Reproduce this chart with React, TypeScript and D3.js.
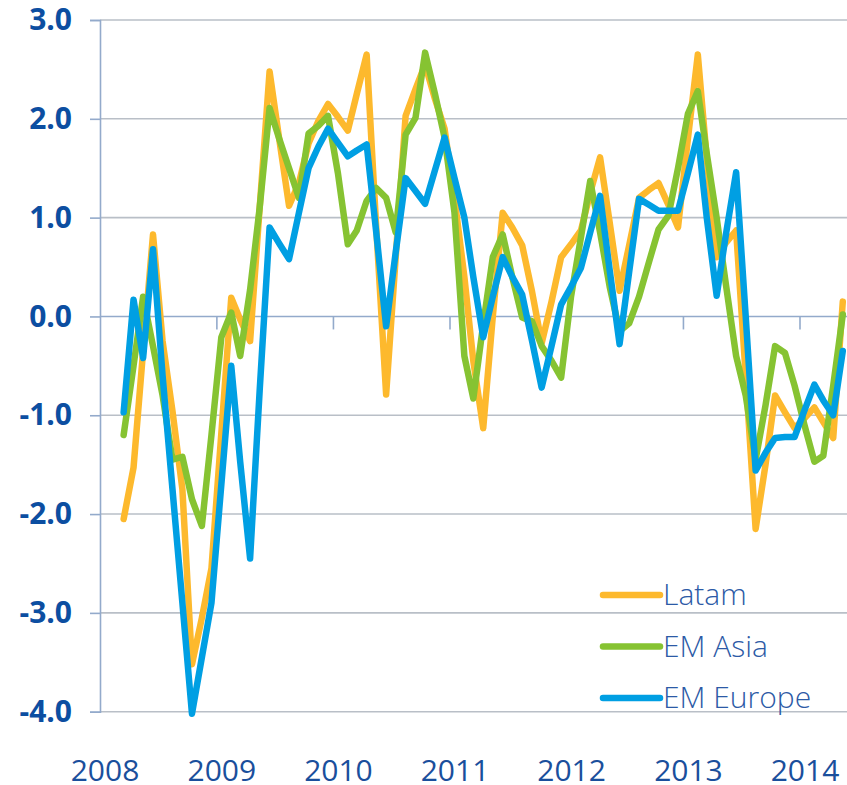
import React, { useEffect, useRef } from 'react';
import * as d3 from 'd3';

// months from Mar 2008 to May 2014
const firstMonth = { year: 2008, month: 2 };
const latam = [
  -2.05, -1.53, -0.35, 0.83, -0.25, -0.96, -1.75, -3.52, -3.05, -2.55,
  -1.18, 0.19, -0.03, -0.25, 1.1, 2.48, 1.8, 1.12, 1.35, 1.75,
  1.98, 2.15, 2.02, 1.88, 2.25, 2.65, 0.9, -0.79, 0.6, 2.03,
  2.3, 2.55, 2.2, 1.9, 1.2, 0.4, -0.45, -1.13, 0.0, 1.05,
  0.9, 0.72, 0.25, -0.27, 0.15, 0.6, 0.73, 0.87, 1.25, 1.61,
  0.95, 0.26, 0.72, 1.2, 1.28, 1.35, 1.13, 0.9, 1.8, 2.65,
  1.6, 0.6, 0.75, 0.87, -0.6, -2.15, -1.5, -0.8, -0.97, -1.13,
  -1.03, -0.92, -1.07, -1.23, 0.15,
];
const emAsia = [
  -1.2, -0.5, 0.2, -0.3, -0.8, -1.45, -1.42, -1.85, -2.12, -1.2,
  -0.21, 0.04, -0.4, 0.27, 1.1, 2.11, 1.8, 1.5, 1.2, 1.85,
  1.93, 2.03, 1.45, 0.73, 0.87, 1.17, 1.3, 1.2, 0.85, 1.84,
  2.01, 2.67, 2.25, 1.81, 1.05, -0.4, -0.83, -0.08, 0.6, 0.83,
  0.4, -0.01, -0.05, -0.3, -0.45, -0.62, 0.2, 0.8, 1.37, 0.85,
  0.3, -0.15, -0.07, 0.2, 0.55, 0.88, 1.02, 1.5, 2.05, 2.28,
  1.65, 1.0, 0.3, -0.4, -0.8, -1.45, -0.9, -0.3, -0.37, -0.7,
  -1.1, -1.47, -1.41, -0.7, 0.02,
];
const emEurope = [
  -0.97, 0.17, -0.42, 0.68, -0.6, -1.75, -2.9, -4.02, -3.45, -2.9,
  -1.7, -0.5, -1.47, -2.45, -0.75, 0.9, 0.74, 0.58, 1.05, 1.5,
  1.72, 1.9, 1.76, 1.62, 1.68, 1.74, 0.85, -0.1, 0.65, 1.4,
  1.27, 1.14, 1.48, 1.81, 1.4, 1.0, 0.4, -0.21, 0.2, 0.6,
  0.4, 0.22, -0.25, -0.72, -0.3, 0.12, 0.3, 0.49, 0.85, 1.22,
  0.47, -0.28, 0.45, 1.19, 1.13, 1.07, 1.07, 1.07, 1.45, 1.84,
  1.0, 0.21, 0.85, 1.46, 0.0, -1.56, -1.38, -1.23, -1.22, -1.22,
  -0.95, -0.69, -0.85, -1.0, -0.35,
];

const yearLabels = ['2008', '2009', '2010', '2011', '2012', '2013', '2014'];
const yTicks = [3, 2, 1, 0, -1, -2, -3, -4];

const series = [
  { name: 'Latam', values: latam, color: '#fdb92d' },
  { name: 'EM Asia', values: emAsia, color: '#86c332' },
  { name: 'EM Europe', values: emEurope, color: '#009fe3' },
];

function App() {
  const svgRef = useRef(null);

  useEffect(() => {
    const width = 847;
    const height = 785;
    const svg = d3.select(svgRef.current);
    svg.selectAll('*').remove();
    svg.attr('width', width).attr('height', height);

    const x = d3
      .scaleTime()
      .domain([new Date(2008, 0, 1), new Date(2014, 0, 1)])
      .range([100, 800]);
    const y = d3.scaleLinear().domain([-4, 3]).range([711.7, 20]);

    // horizontal grid
    svg
      .append('g')
      .selectAll('line')
      .data(yTicks)
      .enter()
      .append('line')
      .attr('x1', 100)
      .attr('x2', width)
      .attr('y1', (d) => y(d))
      .attr('y2', (d) => y(d))
      .style('stroke', (d) => (d === 0 ? '#93aacb' : '#b9bfc7'))
      .style('stroke-width', 1.6);

    // y axis, plain hyphen for negatives
    svg
      .append('g')
      .attr('transform', 'translate(100,0)')
      .call(
        d3
          .axisLeft(y)
          .tickValues(yTicks)
          .tickSize(10)
          .tickPadding(18)
          .tickFormat((d) => (+d).toFixed(1)),
      )
      .call((g) => g.select('.domain').style('stroke', '#93aacb').style('stroke-width', 1.6))
      .call((g) => g.selectAll('.tick line').style('stroke', '#93aacb').style('stroke-width', 1.6))
      .selectAll('text')
      .style('fill', '#0c4ea1')
      .style('font-family', '"Open Sans", sans-serif')
      .style('font-size', '30px')
      .style('font-weight', '700');

    // x ticks on the zero line
    const years = yearLabels.map((yr) => new Date(+yr, 0, 1));
    svg
      .append('g')
      .selectAll('line')
      .data(years.slice(1))
      .enter()
      .append('line')
      .attr('x1', (d) => x(d))
      .attr('x2', (d) => x(d))
      .attr('y1', y(0))
      .attr('y2', y(0) + 13)
      .style('stroke', '#93aacb')
      .style('stroke-width', 1.6);

    // year labels
    svg
      .append('g')
      .selectAll('text')
      .data(yearLabels)
      .enter()
      .append('text')
      .attr('x', (d) => x(new Date(+d, 0, 1)) + 5)
      .attr('y', 781)
      .attr('text-anchor', 'middle')
      .style('fill', '#1a4f9c')
      .style('font-family', '"Open Sans", sans-serif')
      .style('font-size', '30px')
      .text((d) => d);

    // lines
    const line = d3
      .line<number>()
      .x((d, i) => x(new Date(firstMonth.year, firstMonth.month + i, 15)))
      .y((d) => y(d));

    svg
      .append('g')
      .selectAll('path')
      .data(series)
      .enter()
      .append('path')
      .attr('d', (d) => line(d.values))
      .style('fill', 'none')
      .style('stroke', (d) => d.color)
      .style('stroke-width', 6.5)
      .style('stroke-linejoin', 'round')
      .style('stroke-linecap', 'round');

    // legend
    const legend = svg
      .append('g')
      .selectAll('g')
      .data(series)
      .enter()
      .append('g')
      .attr('transform', (d, i) => `translate(603, ${595 + i * 51.5})`);

    legend
      .append('line')
      .attr('x1', 0)
      .attr('x2', 57)
      .style('stroke', (d) => d.color)
      .style('stroke-width', 6.5)
      .style('stroke-linecap', 'round');

    legend
      .append('text')
      .attr('x', 60)
      .attr('y', 10)
      .style('fill', '#2c5aa6')
      .style('font-family', '"Open Sans", sans-serif')
      .style('font-size', '30px')
      .style('font-weight', '300')
      .text((d) => d.name);
  }, []);

  return <svg ref={svgRef} style={{ position: 'absolute', left: 0, top: 0 }} />;
}

export default App;
